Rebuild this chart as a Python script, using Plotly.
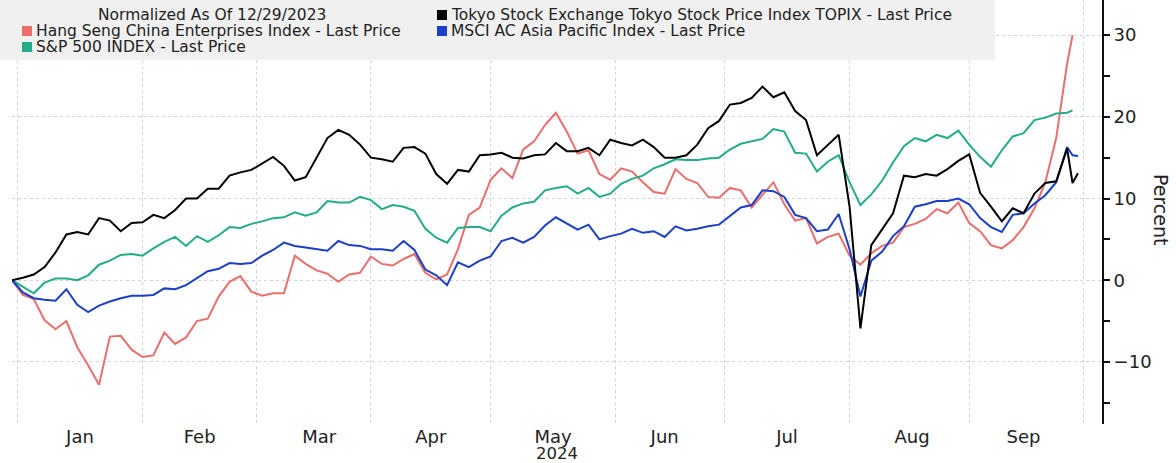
import pandas as pd
import plotly.graph_objects as go

# ---- data ---------------------------------------------------------------
trading_days = pd.bdate_range("2023-12-29", "2024-09-30")
sample_idx = list(range(0, 195, 2)) + [195, 196]
dates = [trading_days[i] for i in sample_idx]

topix = [0, 0.3, 0.7, 1.6, 3.4, 5.6, 5.9, 5.6, 7.6, 7.3,
         6.0, 7.0, 7.1, 8.0, 7.6, 8.6, 10.0, 10.0, 11.2, 11.2,
         12.8, 13.2, 13.5, 14.3, 15.1, 14.0, 12.2, 12.6, 15.0, 17.4,
         18.4, 17.8, 16.6, 15.0, 14.8, 14.5, 16.2, 16.3, 15.5, 13.0,
         11.8, 13.5, 13.3, 15.3, 15.4, 15.6, 15.0, 14.9, 15.3, 15.4,
         16.8, 15.8, 15.8, 16.2, 15.3, 17.2, 16.8, 16.5, 17.2, 16.3,
         15.0, 15.0, 15.3, 16.6, 18.6, 19.5, 21.5, 21.7, 22.3, 23.7,
         22.4, 23.0, 20.7, 19.6, 15.3, 16.5, 17.8, 9.0, -5.9, 4.3,
         6.2, 8.2, 12.8, 12.6, 13.0, 12.8, 13.6, 14.6, 15.4, 10.7,
         9.0, 7.2, 8.8, 8.2, 10.6, 11.9, 12.1, 16.1, 11.9, 13.1]

sp500 = [0, -0.8, -1.6, -0.3, 0.2, 0.2, 0.0, 0.6, 1.9, 2.4,
         3.1, 3.2, 3.0, 3.9, 4.7, 5.3, 4.2, 5.4, 4.7, 5.5,
         6.5, 6.4, 6.9, 7.2, 7.6, 7.7, 8.3, 7.9, 8.3, 9.7,
         9.5, 9.5, 10.2, 9.8, 8.7, 9.2, 9.0, 8.5, 6.3, 5.2,
         4.6, 6.4, 6.5, 6.5, 6.0, 7.9, 8.9, 9.4, 9.6, 11.0,
         11.3, 11.5, 10.6, 11.3, 10.2, 10.6, 11.8, 12.4, 12.8, 13.7,
         14.2, 14.8, 14.7, 14.7, 14.9, 15.0, 16.0, 16.7, 17.0, 17.3,
         18.5, 18.2, 15.6, 15.5, 13.3, 14.5, 15.3, 12.0, 9.2, 10.5,
         12.2, 14.4, 16.4, 17.4, 17.0, 17.8, 17.4, 18.3, 16.6, 15.1,
         13.9, 15.9, 17.6, 18.0, 19.6, 19.9, 20.4, 20.5, 20.8, None]

msci_apac = [0, -1.5, -2.2, -2.4, -2.5, -1.1, -3.0, -3.9, -3.1, -2.6,
             -2.2, -1.9, -1.9, -1.8, -1.0, -1.1, -0.6, 0.2, 1.1, 1.4,
             2.1, 2.0, 2.1, 3.0, 3.7, 4.6, 4.2, 4.0, 3.8, 3.6,
             4.8, 4.3, 4.2, 3.8, 3.8, 3.6, 4.8, 3.7, 1.3, 0.6,
             -0.6, 2.2, 1.6, 2.4, 2.9, 4.8, 5.2, 4.6, 5.3, 6.7,
             7.7, 7.0, 6.2, 6.8, 5.0, 5.4, 5.7, 6.3, 5.8, 6.0,
             5.3, 6.6, 6.1, 6.3, 6.6, 6.8, 7.8, 8.9, 9.2, 11.0,
             10.9, 10.2, 8.0, 7.6, 6.0, 6.2, 8.1, 3.8, -2.0, 2.4,
             3.5, 5.4, 6.6, 9.0, 9.3, 9.7, 9.7, 10.0, 9.3, 7.6,
             6.5, 5.9, 8.0, 8.2, 9.4, 10.4, 12.0, 16.3, 15.3, 15.2]

hscei = [0, -1.8, -2.3, -4.9, -6.0, -5.0, -8.2, -10.4, -12.8, -6.9,
         -6.8, -8.5, -9.4, -9.2, -6.4, -7.8, -7.0, -5.0, -4.7, -2.0,
         -0.2, 0.5, -1.4, -1.9, -1.6, -1.6, 3.0, 2.0, 1.2, 0.8,
         -0.2, 0.7, 0.9, 2.9, 2.0, 1.8, 2.6, 3.2, 0.9, 0.1,
         0.7, 3.8, 8.0, 8.9, 12.3, 13.7, 12.5, 16.0, 17.0, 19.0,
         20.5, 18.2, 15.5, 15.9, 13.0, 12.3, 13.7, 13.3, 12.0, 10.8,
         10.6, 13.6, 12.4, 11.9, 10.2, 10.1, 11.3, 11.0, 8.9, 10.5,
         12.0, 9.3, 7.3, 7.6, 4.5, 5.3, 5.7, 3.0, 1.9, 3.3,
         4.2, 4.6, 6.5, 6.9, 7.5, 8.7, 8.2, 9.5, 7.0, 6.0,
         4.3, 3.9, 4.9, 6.5, 8.8, 12.0, 17.4, 26.5, 30.0, None]

series_names = [
    "Hang Seng China Enterprises Index - Last Price",
    "S&P 500 INDEX - Last Price",
    "MSCI AC Asia Pacific Index - Last Price",
    "Tokyo Stock Exchange Tokyo Stock Price Index TOPIX - Last Price",
]
series_values = [hscei, sp500, msci_apac, topix]
series_colors = ["#ea6f6c", "#22ad88", "#1c3fc9", "#000000"]

legend_title = "Normalized As Of 12/29/2023"
year_label = "2024"
axis_title = "Percent"

FONT = "DejaVu Sans"
LEG_SIZE = 15.5

# ---- figure -------------------------------------------------------------
fig = go.Figure()
for name, vals, col in zip(series_names, series_values, series_colors):
    fig.add_trace(go.Scatter(x=dates, y=vals, mode="lines", name=name,
                             line=dict(color=col, width=2), showlegend=False))

fig.update_layout(
    width=1176, height=463,
    margin=dict(l=12, r=74, t=0, b=39),
    paper_bgcolor="white", plot_bgcolor="white",
    font=dict(family=FONT, size=18, color="#222"),
    xaxis=dict(
        type="date",
        range=["2023-12-29", "2024-10-04 10:00"],
        rangebreaks=[dict(bounds=["sat", "mon"])],
        dtick="M1", tick0="2024-01-01", tickformat="%b",
        ticklabelmode="period",
        showgrid=True, gridcolor="#d4d4d4", griddash="dot", gridwidth=1,
        showline=False, ticks="", zeroline=False,
        tickfont=dict(family=FONT, size=18, color="#222"),
    ),
    yaxis=dict(
        side="right", range=[-17.6, 34.3],
        dtick=10, tick0=0,
        showgrid=True, gridcolor="#d4d4d4", griddash="dot", gridwidth=1,
        zeroline=False,
        showline=True, linecolor="#111", linewidth=2,
        ticks="outside", ticklen=6, tickwidth=2, tickcolor="#111",
        minor=dict(dtick=5, tick0=0, ticks="outside", ticklen=6,
                   tickwidth=1.5, tickcolor="#111", showgrid=False),
        tickfont=dict(family=FONT, size=18, color="#222"),
    ),
)


def px_x(px):
    return (px - 12) / 1090


def px_y(py):
    return (424 - py) / 424


# legend box drawn as shapes + text
shapes = [dict(type="rect", xref="paper", yref="paper",
               x0=px_x(0), x1=px_x(995), y0=px_y(60), y1=1.0,
               fillcolor="#f0f0f0", line=dict(width=0), layer="above")]

legend_items = [  # (series index, square left px, row centre px)
    (3, 437, 15),
    (0, 22, 31),
    (2, 437, 31),
    (1, 22, 47),
]
annotations = [dict(text=legend_title, xref="paper", yref="paper",
                    x=px_x(212), y=px_y(15), xanchor="center", yanchor="middle",
                    showarrow=False, font=dict(family=FONT, size=LEG_SIZE, color="#222"))]
for si, sx, sy in legend_items:
    shapes.append(dict(type="rect", xref="paper", yref="paper",
                       x0=px_x(sx), x1=px_x(sx + 10), y0=px_y(sy + 5), y1=px_y(sy - 5),
                       fillcolor=series_colors[si], line=dict(width=0), layer="above"))
    annotations.append(dict(text=series_names[si], xref="paper", yref="paper",
                            x=px_x(sx + 12), y=px_y(sy), xanchor="left", yanchor="middle",
                            showarrow=False, font=dict(family=FONT, size=LEG_SIZE, color="#222")))

annotations.append(dict(text=year_label, xref="paper", yref="paper",
                        x=px_x(557), y=px_y(453), xanchor="center", yanchor="middle",
                        showarrow=False, font=dict(family=FONT, size=16.5, color="#222")))
annotations.append(dict(text=axis_title, xref="paper", yref="paper",
                        x=px_x(1161), y=px_y(210), xanchor="center", yanchor="middle",
                        textangle=90, showarrow=False,
                        font=dict(family=FONT, size=19, color="#222")))

fig.update_layout(shapes=shapes, annotations=annotations)
fig.write_html("out.html",
               config={"displayModeBar": False},
               post_script="document.body.style.margin='0';document.body.style.overflow='hidden';")
